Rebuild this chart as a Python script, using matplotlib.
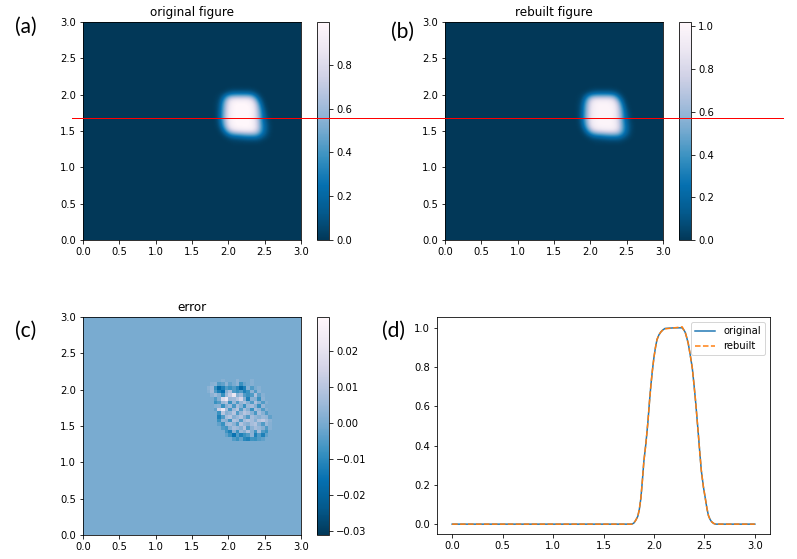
import numpy as np
import matplotlib
matplotlib.use('Agg')
import matplotlib.pyplot as plt
from matplotlib.lines import Line2D

W, H = 797, 559

# blob on a 0.05 grid, x 1.775..2.625, y from 2.075 down to 1.325
blob = [
    [0, 0, 0, 0, .01, .02, .03, .03, .03, .03, .03, .02, .01, 0, 0, 0, 0, 0],
    [0, 0, .01, .03, .08, .14, .17, .18, .18, .18, .17, .14, .07, .02, 0, 0, 0, 0],
    [0, .01, .03, .14, .34, .50, .56, .58, .58, .58, .56, .48, .28, .09, .01, 0, 0, 0],
    [0, .01, .06, .27, .58, .82, .90, .92, .92, .92, .90, .80, .54, .22, .05, 0, 0, 0],
    [0, .02, .09, .36, .68, .90, .98, 1, 1, 1, .98, .92, .72, .36, .09, .01, 0, 0],
    [0, .02, .11, .40, .71, .92, .98, 1, 1, 1, 1, .95, .78, .46, .15, .02, 0, 0],
    [0, .02, .12, .42, .72, .93, .98, 1, 1, 1, 1, .96, .80, .52, .20, .05, 0, 0],
    [0, .02, .13, .43, .73, .93, .98, 1, 1, 1, 1, .95, .81, .54, .23, .07, .01, 0],
    [0, .02, .13, .43, .73, .93, .98, 1, 1, 1, 1, .95, .81, .55, .24, .08, .01, 0],
    [0, .01, .11, .40, .71, .93, .98, 1, 1, 1, 1, .96, .83, .58, .27, .10, .02, 0],
    [0, .01, .08, .33, .66, .90, .97, 1, 1, 1, 1, .97, .85, .60, .30, .12, .03, 0],
    [0, 0, .04, .20, .50, .76, .88, .92, .94, .95, .95, .93, .82, .58, .30, .12, .03, 0],
    [0, 0, .01, .08, .25, .45, .55, .60, .63, .66, .67, .67, .62, .45, .24, .10, .02, 0],
    [0, 0, 0, .02, .06, .14, .20, .22, .25, .28, .30, .30, .29, .22, .12, .05, .01, 0],
    [0, 0, 0, 0, .01, .03, .04, .05, .06, .07, .08, .08, .08, .06, .03, .01, 0, 0],
    [0, 0, 0, 0, 0, 0, .01, .01, .01, .01, .01, .01, .01, .01, 0, 0, 0, 0],
]

# error in units of 0.01, 0.05 grid, x 1.725..2.625, y from 2.125 down to 1.325
err = [
    [0, 0, 0, 0, .2, 0, 0, 0, .3, 0, 0, 0, .2, 0, 0, 0, 0, 0, 0],
    [0, .2, .3, -.5, -.3, .3, -.3, 0, .3, -.8, -.2, 0, .2, 0, 0, 0, 0, 0, 0],
    [.3, .5, -.8, -1.8, -1.2, -.5, -.8, -.5, -1, -1.8, -1.2, .2, -.5, 0, .2, 0, 0, 0, 0],
    [.2, .6, -.5, -1.2, -1.6, .2, .8, -.5, -.8, -.5, -1.2, -.8, .3, -.5, .3, 0, 0, 0, 0],
    [0, .3, .6, .2, -.8, .5, 1.2, 2.2, .2, .6, -.5, -.8, -.5, .8, -.3, .2, 0, 0, 0],
    [0, 0, -.5, .2, 1.8, 2.2, .5, .6, 1, 1.6, .2, -1.2, .3, .2, -.8, .3, 0, 0, 0],
    [0, 0, -.8, -.5, .5, .8, -.8, .5, -.5, .4, .8, .2, -.5, .8, .2, -.5, .2, 0, 0],
    [0, 0, .2, .3, -.8, .2, .6, -.6, .7, .2, -.8, .5, .7, .2, -.8, .4, 0, 0, 0],
    [0, 0, -.3, 1.4, 2.2, .7, -.6, .6, 1, -.5, .7, .2, -.8, .7, .4, -.5, .2, 0, 0],
    [0, 0, 0, -.8, 1, .2, .4, 1, -.5, .4, 1, .7, .2, -.6, .7, .2, -.5, 0, 0],
    [0, 0, 0, -1.2, -.5, .7, 1, .2, .5, .9, .2, -.5, .7, .4, .2, .5, .4, -.3, 0],
    [0, 0, 0, -.8, .4, .2, -.7, .9, .7, -.5, .7, 1, .7, .2, .9, 1.2, .7, .3, 0],
    [0, 0, 0, -.3, -.8, .5, .7, .3, -.5, .9, .4, .2, .7, .9, .2, -.5, .5, .2, 0],
    [0, 0, 0, 0, -.5, -.7, .2, .7, .5, .2, .9, -.5, .3, .7, .5, .2, -.5, .2, 0],
    [0, 0, 0, 0, 0, -.7, -1.2, .2, -.8, .5, .2, .9, .2, -.7, .7, -.5, -.8, 0, 0],
    [0, 0, 0, 0, 0, -.3, -.8, -1.5, -.5, -1.2, -.8, -.5, .3, -1.2, -.5, -1.2, -.3, 0, 0],
    [0, 0, 0, 0, 0, 0, 0, -.5, -.8, -.3, -1, -1.2, -.7, -.8, -.5, -.3, 0, 0, 0],
]

# profile along the red line
x_orig = [0, 1.78, 1.80, 1.82, 1.84, 1.855, 1.87, 1.885, 1.90, 1.92, 1.94, 1.955, 1.97, 1.985, 2.00, 2.015, 2.03,
          2.05, 2.07, 2.09, 2.11, 2.20, 2.28, 2.295, 2.31, 2.325, 2.34, 2.36, 2.38, 2.395, 2.41, 2.425, 2.44, 2.455,
          2.47, 2.49, 2.51, 2.525, 2.54, 2.555, 2.57, 2.59, 2.61, 3]
y_orig = [0, 0, .005, .02, .04, .075, .13, .22, .32, .41, .52, .62, .71, .785, .85, .90, .94,
          .965, .98, .99, .997, 1.0, 1.0, .99, .977, .95, .92, .86, .795, .72, .64, .55, .457, .36,
          .27, .19, .128, .08, .044, .025, .013, .004, 0, 0]
y_rebuilt = [0, 0, .005, .02, .04, .075, .13, .22, .32, .41, .52, .62, .71, .785, .85, .90, .94,
             .965, .98, .99, .995, 1.0, 1.005, .99, .977, .95, .92, .86, .795, .72, .64, .55, .457, .36,
             .27, .19, .128, .08, .044, .025, .013, .004, 0, 0]

labels = ['(a)', '(b)', '(c)', '(d)']


def box(l, t, r, b):
    # pixel box to figure fractions
    return [l / W, 1 - b / H, (r - l) / W, (b - t) / H]


def put(cells, row0, col0):
    a = np.zeros((60, 60))
    a[row0:row0 + cells.shape[0], col0:col0 + cells.shape[1]] = cells
    return a


fig = plt.figure(figsize=(W / 72, H / 72), dpi=72)

# 60x60 grids, top row is y=3
field = put(np.array(blob), 18, 35)
diff = put(np.array(err) / 100, 17, 34)

panels = [
    ([83, 22, 301, 240], [317, 22, 329, 240], field, 0, 0.995, 'bicubic', 'original figure', None),
    ([445, 22, 663, 240], [679, 22, 691, 240], field, 0, 1.02, 'bicubic', 'rebuilt figure', None),
    ([83, 317, 301, 535], [317, 317, 329, 535], diff, -0.031, 0.0295, 'nearest', 'error',
     [-0.03, -0.02, -0.01, 0, 0.01, 0.02]),
]
for pos, cpos, data, lo, hi, interp, title, ticks in panels:
    ax = fig.add_axes(box(*pos))
    im = ax.imshow(data, cmap='PuBu_r', vmin=lo, vmax=hi, extent=[0, 3, 0, 3], interpolation=interp, aspect='auto')
    ax.set_xticks(np.arange(0, 3.5, 0.5))
    ax.set_yticks(np.arange(0, 3.5, 0.5))
    ax.set_title(title)
    cax = fig.add_axes(box(*cpos))
    cb = fig.colorbar(im, cax=cax)
    if ticks:
        cb.set_ticks(ticks)
        cb.set_ticklabels(['\u22120.03', '\u22120.02', '\u22120.01', '0.00', '0.01', '0.02'])

ax = fig.add_axes(box(437, 317, 770, 534))
ax.plot(x_orig, y_orig, label='original')
ax.plot(x_orig, y_rebuilt, '--', label='rebuilt')
ax.set_xticks(np.arange(0, 3.5, 0.5))
ax.set_yticks(np.arange(0, 1.2, 0.2))
ax.legend(loc='upper right')

# red line across both top panels
fig.add_artist(Line2D([72 / W, 783 / W], [1 - 118 / H, 1 - 118 / H], color='red', lw=1))

for lab, (px, py) in zip(labels, [(15, 27), (391, 32), (15, 331), (382, 331)]):
    fig.text(px / W, 1 - py / H, lab, fontsize=21, family='Lato', va='center')

fig.savefig('out.png', dpi=72)
